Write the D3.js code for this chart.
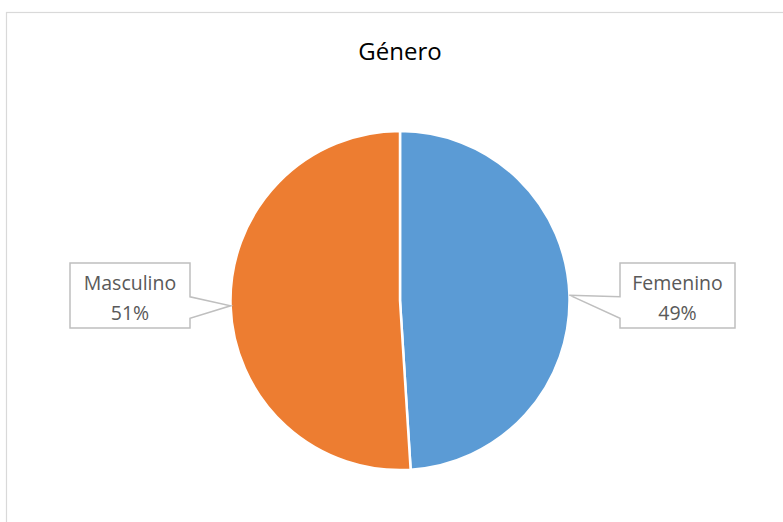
<!DOCTYPE html>
<html>
<head>
<meta charset="utf-8">
<script src="https://cdn.jsdelivr.net/npm/d3@7"></script>
<style>
  html, body { margin: 0; padding: 0; background: #fff; }
  svg { display: block; }
</style>
</head>
<body>
<svg id="chart" width="783" height="522"></svg>
<script>
const title = "Género";
const categories = ["Femenino", "Masculino"];
const values = [49, 51];
const colors = ["#5B9BD5", "#ED7D31"];

const svg = d3.select("#chart");
const W = 783, H = 522;

// chart border
svg.append("rect")
  .attr("x", 6.5).attr("y", 12.5)
  .attr("width", W + 20).attr("height", H + 20)
  .attr("fill", "#fff").attr("stroke", "#d9d9d9").attr("stroke-width", 1.2);

svg.append("text")
  .attr("x", 400).attr("y", 60)
  .attr("text-anchor", "middle")
  .attr("font-family", "'Open Sans', 'Liberation Sans', sans-serif")
  .attr("font-size", 24)
  .attr("fill", "#000")
  .text(title);

const cx = 400, cy = 300.5, R = 169.5;
const data = categories.map((c, i) => ({ cat: c, value: values[i], color: colors[i] }));
const pie = d3.pie().sort(null).value(d => d.value);
const arcs = pie(data);
const arc = d3.arc().innerRadius(0).outerRadius(R);

const g = svg.append("g").attr("transform", `translate(${cx},${cy})`);
g.selectAll("path").data(arcs).enter().append("path")
  .attr("d", arc)
  .attr("fill", d => d.data.color)
  .attr("stroke", "#fff")
  .attr("stroke-width", 2.5)
  .attr("stroke-linejoin", "round");

// callout boxes (layout)
const boxes = [
  { x: 620, y: 263, w: 115, h: 65, side: "left" },
  { x: 70, y: 263, w: 120, h: 65, side: "right" }
];

const total = d3.sum(values);
arcs.forEach((a, i) => {
  const mid = (a.startAngle + a.endAngle) / 2;
  const tx = cx + R * Math.sin(mid);
  const ty = cy - R * Math.cos(mid);
  const b = boxes[i];
  const y1 = b.y + b.h * 0.52, y2 = b.y + b.h * 0.85;
  let pts;
  if (b.side === "left") {
    pts = [[b.x, b.y], [b.x + b.w, b.y], [b.x + b.w, b.y + b.h], [b.x, b.y + b.h], [b.x, y2], [tx, ty], [b.x, y1]];
  } else {
    pts = [[b.x, b.y], [b.x + b.w, b.y], [b.x + b.w, y1], [tx, ty], [b.x + b.w, y2], [b.x + b.w, b.y + b.h], [b.x, b.y + b.h]];
  }
  svg.append("path")
    .attr("d", d3.line()(pts) + "Z")
    .attr("fill", "#fff")
    .attr("stroke", "#bfbfbf")
    .attr("stroke-width", 1.5);
  const pct = Math.round(values[i] / total * 100) + "%";
  const t = svg.append("text")
    .attr("text-anchor", "middle")
    .attr("font-family", "'Open Sans', 'Liberation Sans', sans-serif")
    .attr("font-size", 19.5)
    .attr("fill", "#595959");
  t.append("tspan").attr("x", b.x + b.w / 2).attr("y", b.y + 27).text(categories[i]);
  t.append("tspan").attr("x", b.x + b.w / 2).attr("y", b.y + 57).text(pct);
});
</script>
</body>
</html>
